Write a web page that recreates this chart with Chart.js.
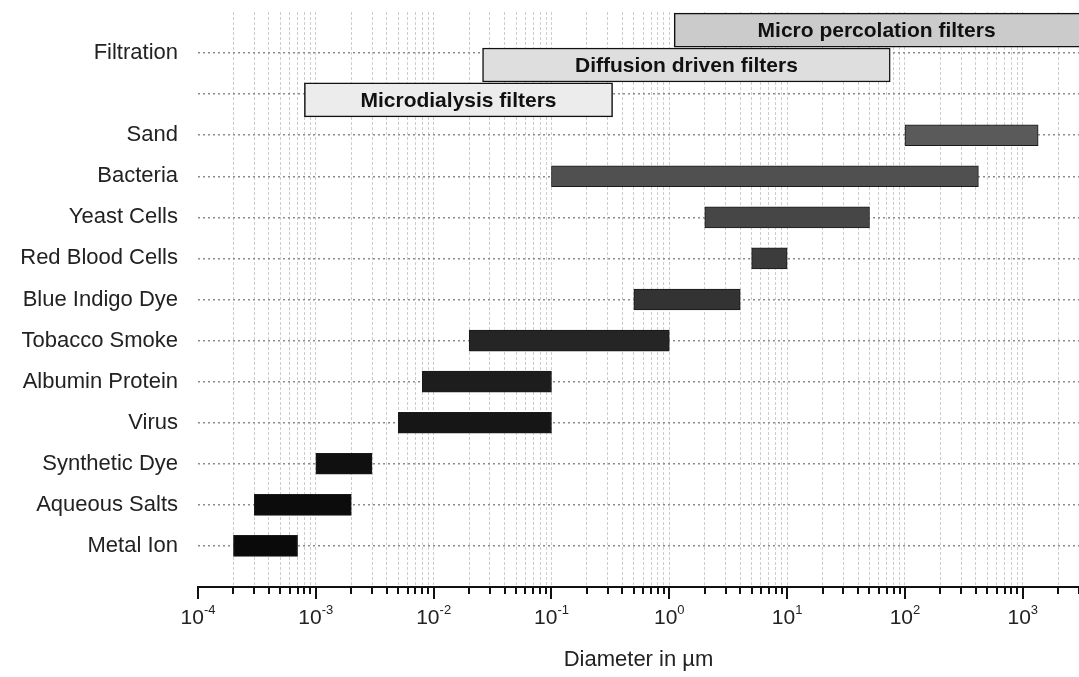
<!DOCTYPE html>
<html>
<head>
<meta charset="utf-8">
<title>Particle sizes and filtration ranges</title>
<script src="https://cdn.jsdelivr.net/npm/chart.js@4.4.1/dist/chart.umd.min.js"></script>
<style>
  html, body { margin: 0; padding: 0; background: #fff; }
  canvas { display: block; }
</style>
</head>
<body>
<canvas id="chart" width="1079" height="677"></canvas>
<script>
// row labels top to bottom, row 1 is the empty second filter row
const rowLabels = ["Filtration", "", "Sand", "Bacteria", "Yeast Cells", "Red Blood Cells",
  "Blue Indigo Dye", "Tobacco Smoke", "Albumin Protein", "Virus", "Synthetic Dye",
  "Aqueous Salts", "Metal Ion"];

// particle size ranges in µm (row 2 onwards)
const particles = rowLabels.slice(2);
const sizeMin = [100, 0.1, 2, 5, 0.5, 0.02, 0.008, 0.005, 0.001, 0.0003, 0.0002];
const sizeMax = [1350, 420, 50, 10, 4, 1, 0.1, 0.1, 0.003, 0.002, 0.0007];

// filter ranges in µm, drawn in the top rows
const filterNames = ["Micro percolation filters", "Diffusion driven filters", "Microdialysis filters"];
const filterMin = [1.1, 0.026, 0.0008];
const filterMax = [10000, 75, 0.33];
const filterRows = [-0.56, 0.29, 1.14];

// x ticks: decades 10^-4 .. 10^3 with minor ticks
const decades = [-4, -3, -2, -1, 0, 1, 2, 3];
const xMax = 3000;

const FONT = '"Liberation Sans", Arial, Helvetica, sans-serif';

const barColors = ["#5a5a5a", "#505050", "#464646", "#3c3c3c", "#333333", "#252525",
  "#1d1d1d", "#161616", "#101010", "#0c0c0c", "#0a0a0a"];
const filterColors = ["#cbcbcb", "#dedede", "#ececec"];

const xTicks = [];
decades.forEach(e => {
  for (let m = 1; m <= 9; m++) {
    const v = m * Math.pow(10, e);
    if (v <= xMax) xTicks.push({ value: v, major: m === 1 });
  }
});

const axisDecor = {
  id: "axisDecor",
  afterDatasetsDraw(chart) {
    const ctx = chart.ctx;
    const area = chart.chartArea;
    const meta = chart.getDatasetMeta(1);
    ctx.save();
    ctx.font = "bold 21px " + FONT;
    ctx.fillStyle = "#111";
    ctx.textAlign = "center";
    ctx.textBaseline = "middle";
    meta.data.forEach((bar, i) => {
      const l = Math.max(Math.min(bar.x, bar.base), area.left);
      const r = Math.min(Math.max(bar.x, bar.base), area.right);
      ctx.fillText(filterNames[i], (l + r) / 2, bar.y + 1);
    });
    ctx.restore();
  },
  afterDraw(chart) {
    const ctx = chart.ctx;
    const x = chart.scales.x;
    const y0 = x.top;
    ctx.save();
    ctx.strokeStyle = "#111";
    ctx.lineWidth = 2;
    x.ticks.forEach(t => {
      const px = Math.round(x.getPixelForValue(t.value));
      ctx.beginPath();
      ctx.moveTo(px, y0);
      ctx.lineTo(px, y0 + (t.major ? 12 : 7));
      ctx.stroke();
    });
    // tick labels with superscript exponent
    ctx.fillStyle = "#222";
    ctx.textBaseline = "middle";
    ctx.textAlign = "left";
    x.ticks.filter(t => t.major).forEach(t => {
      const px = x.getPixelForValue(t.value);
      const exp = String(Math.round(Math.log10(t.value)));
      ctx.font = "21px " + FONT;
      const w1 = ctx.measureText("10").width;
      ctx.font = "13px " + FONT;
      const w2 = ctx.measureText(exp).width;
      const sx = px - (w1 + w2) / 2;
      ctx.font = "21px " + FONT;
      ctx.fillText("10", sx, y0 + 31);
      ctx.font = "13px " + FONT;
      ctx.fillText(exp, sx + w1, y0 + 23);
    });
    ctx.restore();
  }
};

new Chart(document.getElementById("chart"), {
  type: "bar",
  data: {
    datasets: [
      {
        label: "Particles",
        data: particles.map((p, i) => ({ x: [sizeMin[i], sizeMax[i]], y: i + 2 })),
        backgroundColor: barColors,
        borderColor: "#1a1a1a",
        borderWidth: 1,
        borderSkipped: false,
        barThickness: 21,
        grouped: false
      },
      {
        label: "Filters",
        data: filterNames.map((f, i) => ({ x: [filterMin[i], filterMax[i]], y: filterRows[i] })),
        backgroundColor: filterColors,
        borderColor: "#111",
        borderWidth: 1.5,
        borderSkipped: false,
        barThickness: 34,
        grouped: false
      }
    ]
  },
  options: {
    indexAxis: "y",
    responsive: false,
    animation: false,
    devicePixelRatio: 1,
    layout: { padding: { top: 12, left: 0, right: 0, bottom: 0 } },
    plugins: {
      legend: { display: false },
      tooltip: { enabled: false }
    },
    scales: {
      x: {
        type: "logarithmic",
        position: "bottom",
        min: 1e-4,
        max: xMax,
        afterBuildTicks: s => { s.ticks = xTicks.map(t => ({ value: t.value, major: t.major })); },
        afterFit: s => { s.height = 90; s.paddingLeft = 0; s.paddingRight = 0; },
        ticks: { display: false },
        grid: {
          drawTicks: false,
          color: c => (c.index === 0 ? "rgba(0,0,0,0)" : "#cdcdcd"),
          lineWidth: 1
        },
        border: { display: true, color: "#111", width: 2, dash: [3, 2] },
        title: {
          display: true,
          text: "Diameter in µm",
          color: "#222",
          font: { family: FONT, size: 22 },
          padding: { top: 0, bottom: 4 }
        }
      },
      y: {
        type: "linear",
        reverse: true,
        offset: false,
        min: -1,
        max: 13,
        afterBuildTicks: s => { s.ticks = rowLabels.map((r, i) => ({ value: i })); },
        afterFit: s => { s.width = 198; s.paddingTop = 0; s.paddingBottom = 0; },
        ticks: {
          autoSkip: false,
          padding: 20,
          color: "#222",
          font: { family: FONT, size: 22 },
          callback: v => rowLabels[v] ?? ""
        },
        grid: {
          offset: false,
          drawTicks: false,
          color: "#8c8c8c",
          lineWidth: 1.5
        },
        border: { display: false, dash: [2, 3] }
      }
    }
  },
  plugins: [axisDecor]
});
</script>
</body>
</html>
